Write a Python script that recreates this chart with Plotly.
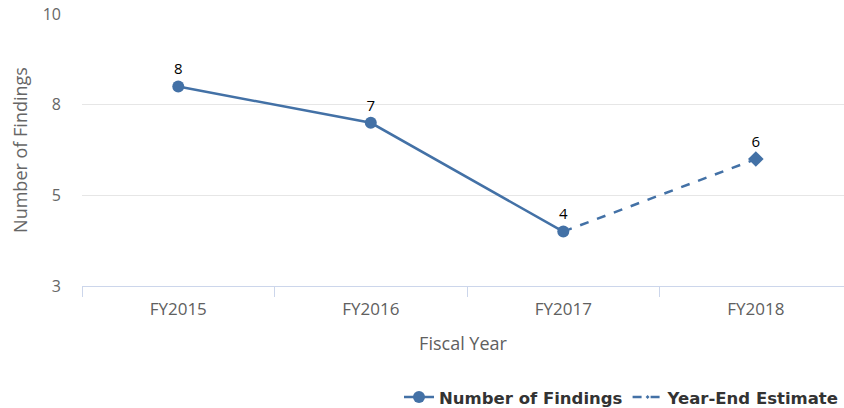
import plotly.graph_objects as go

# chart data
years = ['FY2015', 'FY2016', 'FY2017', 'FY2018']
findings = [8, 7, 4, None]
estimate = [None, None, 4, 6]
y_ticks = [2.5, 5, 7.5, 10]
y_tick_text = ['3', '5', '8', '10']

blue = '#4371a6'

fig = go.Figure()

# dashed estimate first so the circle sits on top at FY2017
fig.add_trace(go.Scatter(
    x=years, y=estimate, name='Year-End Estimate',
    mode='lines+markers+text',
    line=dict(color=blue, width=2.5, dash='dash'),
    marker=dict(symbol='diamond', size=[0, 0, 0, 12], color=blue, opacity=1,
                line=dict(width=0, color=blue)),
    text=['', '', '', '6'], textposition='top center',
    textfont=dict(family='Open Sans', size=15, color='#000000'),
    cliponaxis=False,
))
fig.add_trace(go.Scatter(
    x=years, y=findings, name='Number of Findings',
    mode='lines+markers+text',
    line=dict(color=blue, width=2.5),
    marker=dict(symbol='circle', size=12, color=blue, opacity=1),
    text=[str(v) if v is not None else '' for v in findings],
    textposition='top center',
    textfont=dict(family='Open Sans', size=15, color='#000000'),
    cliponaxis=False,
))

fig.update_layout(
    width=844, height=408,
    margin=dict(l=82, r=0, t=14, b=122, autoexpand=False),
    plot_bgcolor='white', paper_bgcolor='white',
    font=dict(family='Open Sans', color='#666666'),
    showlegend=True,
    legend=dict(
        orientation='h', x=1.0, xanchor='right', y=-0.345, yanchor='top',
        font=dict(family='DejaVu Sans', size=16.5, color='#333333', weight='bold'),
        traceorder='reversed',
    ),
    xaxis=dict(
        type='category', range=[-0.5, 3.458], automargin=False,
        showgrid=False, showline=True, linecolor='#ccd6eb', linewidth=1,
        ticks='outside', tickson='boundaries', ticklen=10, tickcolor='#ccd6eb',
        tickfont=dict(size=17, color='#606060'), ticklabelstandoff=8,
        title=dict(text='Fiscal Year', font=dict(size=18, color='#606060'), standoff=17),
    ),
    yaxis=dict(
        range=[2.5, 10], tickvals=y_ticks, ticktext=y_tick_text, automargin=False,
        showgrid=True, gridcolor='#e6e6e6', zeroline=False, showline=False,
        tickfont=dict(size=16, color='#666666'), ticklabelstandoff=20,
        title=dict(text='Number of Findings', font=dict(size=18, color='#666666'), standoff=10),
    ),
)

# drop the default page margin so the figure sits at the window's corner
fig.write_html('out.html', config={'displayModeBar': False},
               post_script="document.body.style.margin='0';")
